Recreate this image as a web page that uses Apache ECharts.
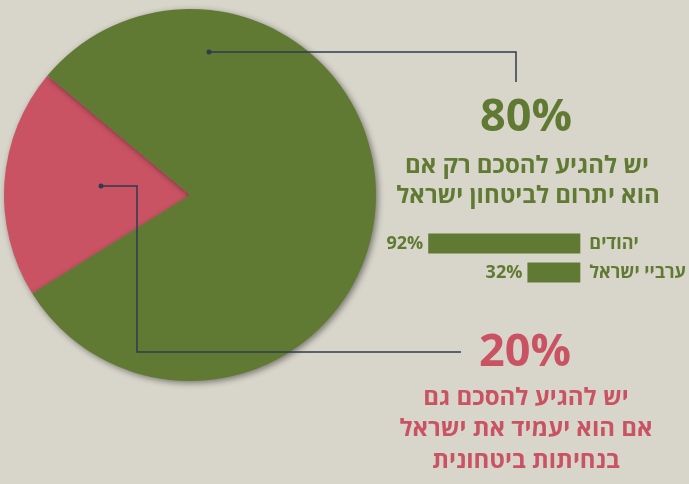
<!DOCTYPE html>
<html>
<head>
<meta charset="utf-8">
<script src="https://cdn.jsdelivr.net/npm/echarts@6/dist/echarts.min.js"></script>
<style>
    html, body { margin: 0; padding: 0; background: #d8d6ca; }
    #main { width: 689px; height: 484px; }
</style>
</head>
<body>
<div id="main"></div>
<script>
    // pie: share of answers
    var pieNames = ['גם אם יעמיד', 'רק אם יתרום'];
    var pieValues = [20, 80];
    // small bars: support by group
    var groups = ['יהודים', 'ערביי ישראל'];
    var groupValues = [92, 32];

    var green = '#617a33';
    var pink = '#c95363';
    var lineColor = '#2f3b4f';
    var font = '"Open Sans", "Liberation Sans", "DejaVu Sans", sans-serif';

    var chart = echarts.init(document.getElementById('main'));

    function txt(x, y, s, size, color) {
        return {
            type: 'text', x: x, y: y, z: 20,
            style: {
                text: s, fill: color, font: 'bold ' + size + 'px ' + font,
                textAlign: 'center', textVerticalAlign: 'middle'
            }
        };
    }

    chart.setOption({
        backgroundColor: '#d8d6ca',
        animation: false,
        grid: { left: 415, right: 106, top: 229, height: 58 },
        xAxis: {
            type: 'value', min: 0, max: 100, inverse: true, show: false
        },
        yAxis: {
            type: 'category', data: groups, inverse: true, position: 'right',
            axisLine: { show: false }, axisTick: { show: false },
            axisLabel: {
                align: 'left', margin: 9, color: green,
                fontFamily: font, fontWeight: 'bold', fontSize: 18
            }
        },
        series: [{
            type: 'pie',
            center: [190, 195],
            radius: 186,
            startAngle: 212,
            clockwise: true,
            silent: true,
            label: { show: false },
            labelLine: { show: false },
            data: pieNames.map(function (n, i) {
                return { name: n, value: pieValues[i] };
            }),
            itemStyle: {
                shadowBlur: 6, shadowOffsetX: 2, shadowOffsetY: 2,
                shadowColor: 'rgba(0,0,0,0.45)'
            },
            color: [pink, green]
        }, {
            type: 'bar',
            data: groupValues,
            barWidth: 20,
            itemStyle: { color: green },
            label: {
                show: true, position: 'left', distance: 5,
                formatter: '{c}%', color: green,
                fontFamily: font, fontWeight: 'bold', fontSize: 18
            }
        }],
        graphic: [
            {
                type: 'polyline', z: 10,
                shape: { points: [[209, 52], [516, 52], [516, 82]] },
                style: { stroke: lineColor, lineWidth: 1.5, fill: null }
            },
            { type: 'circle', z: 10, shape: { cx: 209, cy: 52, r: 2.5 }, style: { fill: lineColor } },
            {
                type: 'polyline', z: 10,
                shape: { points: [[101, 186], [137, 186], [137, 352], [461, 352]] },
                style: { stroke: lineColor, lineWidth: 1.5, fill: null }
            },
            { type: 'circle', z: 10, shape: { cx: 101, cy: 186, r: 2.5 }, style: { fill: lineColor } },

            txt(526, 118, '80%', 45, green),
            txt(527, 166, 'יש להגיע להסכם רק אם', 24, green),
            txt(528, 196, 'הוא יתרום לביטחון ישראל', 24, green),

            txt(525, 353, '20%', 45, pink),
            txt(526, 398, 'יש להגיע להסכם גם', 24, pink),
            txt(526, 429, 'אם הוא יעמיד את ישראל', 24, pink),
            txt(526, 461, 'בנחיתות ביטחונית', 24, pink)
        ]
    });
</script>
</body>
</html>
